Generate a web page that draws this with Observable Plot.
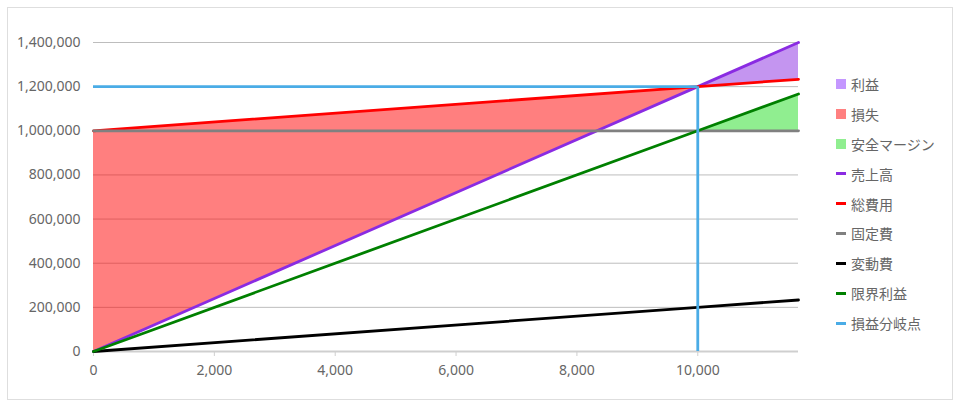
<!DOCTYPE html>
<html>
<head>
<meta charset="utf-8">
<script src="https://cdn.jsdelivr.net/npm/d3@7"></script>
<script src="https://cdn.jsdelivr.net/npm/@observablehq/plot@0.6"></script>
<style>
  body { margin: 0; background: #fff; }
  #wrap { position: relative; width: 960px; height: 406px; font-family: "Noto Sans", "Noto Sans CJK JP", sans-serif; }
  #frame { position: absolute; left: 7px; top: 7px; width: 944px; height: 391px; border: 1px solid #dedede; }
  #chart { position: absolute; left: 0; top: 0; }
  #legend { position: absolute; left: 836px; top: 74px; font-family: "Noto Sans CJK JP", sans-serif; font-size: 14px; color: #666; }
  .row { height: 29.9px; display: flex; align-items: center; position: relative; top: -5px; }
  .sw { width: 10px; margin-right: 5px; }
</style>
</head>
<body>
<div id="wrap">
  <div id="frame"></div>
  <div id="chart"></div>
  <div id="legend"></div>
</div>
<script>
// 販売数量
const qty = [0, 10000, 11667];
const sales = [0, 1200000, 1400000];        // 売上高
const totalCost = [1000000, 1200000, 1233333]; // 総費用
const fixedCost = [1000000, 1000000, 1000000]; // 固定費
const variableCost = [0, 200000, 233333];    // 変動費
const marginal = [0, 1000000, 1166667];      // 限界利益
const bepQty = 10000;
const bepSales = 1200000;
const yTicks = [0, 200000, 400000, 600000, 800000, 1000000, 1200000, 1400000];
const xTicks = [0, 2000, 4000, 6000, 8000, 10000];

const legendNames = ["利益", "損失", "安全マージン", "売上高", "総費用", "固定費", "変動費", "限界利益", "損益分岐点"];
const legendColors = ["#c497ff", "#ff8080", "#90ee90", "#8a2be2", "#ff0000", "#808080", "#000000", "#008000", "#4aace6"];
const legendKinds = ["area", "area", "area", "line", "line", "line", "line", "line", "line"];

const rows = qty.map((q, i) => ({
  q,
  sales: sales[i],
  total: totalCost[i],
  fixed: fixedCost[i],
  variable: variableCost[i],
  marginal: marginal[i]
}));
const before = rows.filter((d) => d.q <= bepQty);
const after = rows.filter((d) => d.q >= bepQty);

let chart = Plot.plot({
  width: 820,
  height: 406,
  marginLeft: 93,
  marginRight: 22,
  marginTop: 42,
  marginBottom: 55,
  style: { fontFamily: "'Noto Sans', sans-serif", fontSize: "14px", color: "#666", background: "transparent" },
  x: { domain: [0, 11667] },
  y: { domain: [0, 1400000] },
  marks: [
    Plot.gridY(yTicks, { stroke: "#bdbdbd", strokeOpacity: 1 }),
    Plot.areaY(after, { x: "q", y1: "total", y2: "sales", fill: "#8a2be2", fillOpacity: 0.5 }),
    Plot.areaY(before, { x: "q", y1: "sales", y2: "total", fill: "#ff0000", fillOpacity: 0.5 }),
    Plot.areaY(after, { x: "q", y1: "fixed", y2: "marginal", fill: "#22dd22", fillOpacity: 0.5 }),
    Plot.ruleY([0], { stroke: "#cfcfcf", strokeWidth: 2 }),
    Plot.axisY(yTicks, { tickFormat: d3.format(","), tickSize: 0, tickPadding: 13, fill: "#666", label: null }),
    Plot.axisX(xTicks, { tickFormat: d3.format(","), tickSize: 5, stroke: "#cfcfcf", tickPadding: 9, fill: "#666", label: null }),
    Plot.line(rows, { x: "q", y: "sales", stroke: "#8a2be2", strokeWidth: 2.8 }),
    Plot.line(rows, { x: "q", y: "total", stroke: "#ff0000", strokeWidth: 2.8 }),
    Plot.line(rows, { x: "q", y: "fixed", stroke: "#808080", strokeWidth: 2.8 }),
    Plot.line(rows, { x: "q", y: "variable", stroke: "#000000", strokeWidth: 2.8 }),
    Plot.line(rows, { x: "q", y: "marginal", stroke: "#008000", strokeWidth: 2.8 }),
    Plot.ruleY([bepSales], { x1: 0, x2: bepQty, stroke: "#4aace6", strokeWidth: 2.8 }),
    Plot.ruleX([bepQty], { y1: 0, y2: bepSales, stroke: "#4aace6", strokeWidth: 2.8 })
  ]
});
d3.select("#chart").append(() => chart);

const legend = d3.select("#legend");
legendNames.forEach((name, i) => {
  const row = legend.append("div").attr("class", "row");
  row.append("div").attr("class", "sw")
    .style("height", legendKinds[i] == "area" ? "10px" : "3px")
    .style("background", legendColors[i]);
  row.append("span").text(name);
});
</script>
</body>
</html>
